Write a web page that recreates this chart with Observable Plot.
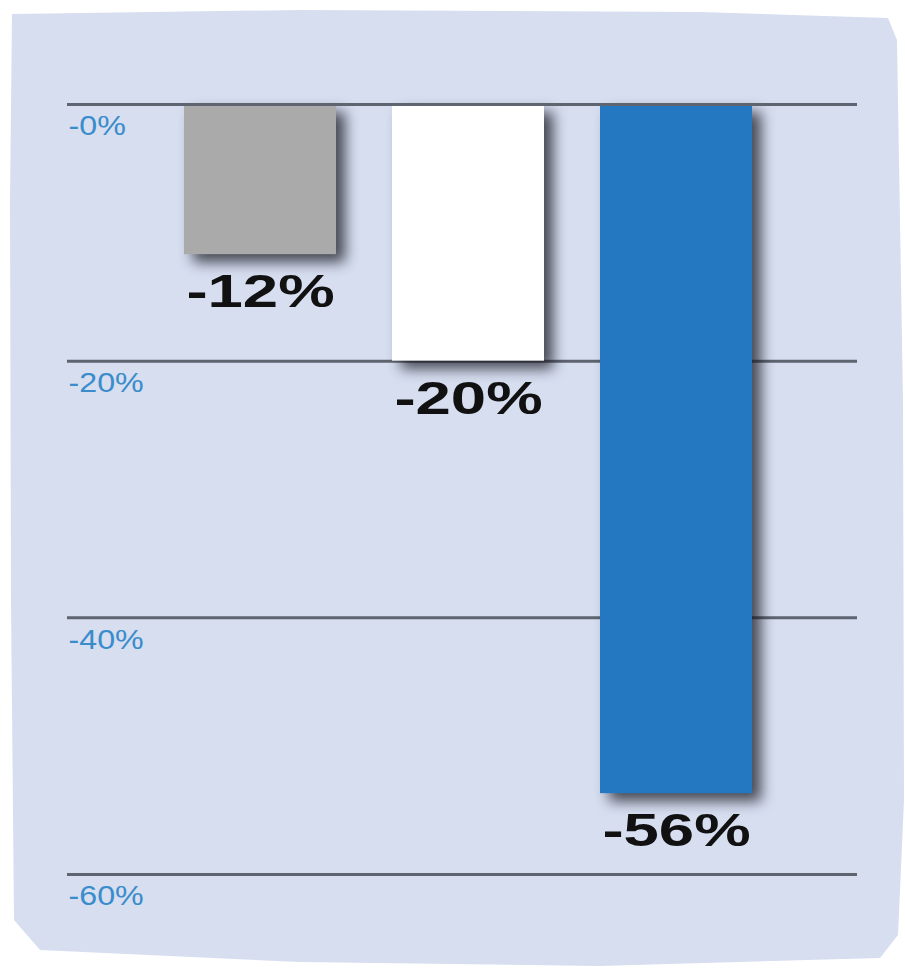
<!DOCTYPE html>
<html>
<head>
<meta charset="utf-8">
<script src="https://cdn.jsdelivr.net/npm/d3@7"></script>
<script src="https://cdn.jsdelivr.net/npm/@observablehq/plot@0.6"></script>
<style>
  html, body { margin: 0; padding: 0; background: #ffffff; }
  #wrap { position: relative; width: 905px; height: 977px; overflow: hidden; }
  #panel {
    position: absolute; left: 0; top: 0; width: 905px; height: 977px;
    background: #d6def0;
    clip-path: polygon(12px 14px, 300px 10px, 700px 12px, 888px 18px, 897px 40px, 903px 400px, 904px 800px, 898px 935px, 880px 958px, 600px 966px, 300px 962px, 40px 950px, 14px 920px, 11px 600px, 10px 200px);
  }
  #chart { position: absolute; left: 0; top: 0; }
</style>
</head>
<body>
<div id="wrap"><div id="panel"></div><div id="chart"></div></div>
<script>
// Data
const categories = ["A", "B", "C"];
const values = [-11.7, -20, -53.7];
const valueLabels = ["-12%", "-20%", "-56%"];
const barColors = ["#aaaaaa", "#ffffff", "#2378c1"];
const tickValues = [0, -20, -40, -60];
const tickLabels = ["-0%", "-20%", "-40%", "-60%"];

const data = categories.map((c, i) => ({cat: c, value: values[i], label: valueLabels[i], color: barColors[i]}));
const ticks = tickValues.map((v, i) => ({v, label: tickLabels[i]}));

const chart = Plot.plot({
  width: 905,
  height: 977,
  marginTop: 104,
  marginBottom: 103,
  marginLeft: 67,
  marginRight: 48,
  style: {background: "transparent", overflow: "visible"},
  x: {domain: categories, paddingInner: 0.269, paddingOuter: 0.531, align: 0.525, axis: null},
  y: {domain: [-60, 0], axis: null},
  color: {type: "identity"},
  marks: [
    Plot.ruleY(ticks, {y: "v", stroke: "#5e6470", strokeWidth: 3}),
    Plot.barY(data, {x: "cat", y1: 0, y2: "value", fill: "color", imageFilter: "drop-shadow(9px 8px 7px rgba(20,20,30,0.75))"}),
    Plot.ruleY([0], {stroke: "#5e6470", strokeWidth: 3}),
    Plot.text(ticks, {y: "v", text: "label", frameAnchor: "left", textAnchor: "start", dx: 1, dy: 22,
      fill: "#3a8ccb", fontSize: 28, fontFamily: "Liberation Sans", className: "tick-label"}),
    Plot.text(data, {x: "cat", y: "value", text: "label", dy: 38, fill: "#111111",
      fontSize: 46, fontWeight: "bold", fontFamily: "Liberation Sans", className: "value-label"})
  ]
});
document.getElementById("chart").appendChild(chart);

// Horizontal stretch of text, as in the reference typesetting
function stretch(selector, factor) {
  chart.querySelectorAll(selector + " text").forEach(t => {
    const w = t.getComputedTextLength();
    t.setAttribute("textLength", (w * factor).toFixed(1));
    t.setAttribute("lengthAdjust", "spacingAndGlyphs");
  });
}
stretch(".tick-label", 1.15);
stretch(".value-label", 1.38);
</script>
</body>
</html>
